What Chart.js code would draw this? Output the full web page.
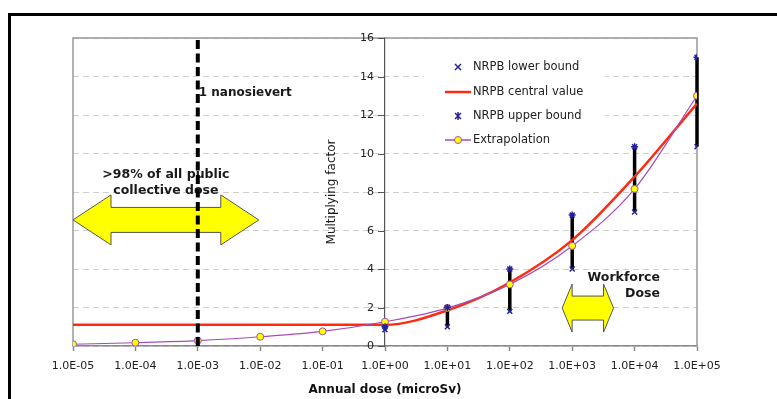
<!DOCTYPE html>
<html>
<head>
<meta charset="utf-8">
<script src="https://cdn.jsdelivr.net/npm/chart.js@4.4.1/dist/chart.umd.min.js"></script>
<style>
  html, body { margin: 0; padding: 0; background: #fff; }
  #wrap { position: relative; width: 777px; height: 399px; overflow: hidden; }
  #frame { position: absolute; left: 8px; top: 13px; right: -10px; bottom: -10px; border-top: 3px solid #000; border-left: 3px solid #000; pointer-events: none; }
  canvas { position: absolute; left: 0; top: 0; }
</style>
</head>
<body>
<div id="wrap"><canvas id="chart" width="777" height="399"></canvas><div id="frame"></div></div>
<script>
/* ================= DATA ================= */
const doses = [1e-5, 1e-4, 1e-3, 1e-2, 1e-1, 1e0, 1e1, 1e2, 1e3, 1e4, 1e5];
const extrapolation = [0.09, 0.17, 0.28, 0.48, 0.76, 1.26, 1.97, 3.2, 5.2, 8.16, 13.0];
const centralValue = [1.1, 1.1, 1.1, 1.1, 1.1, 1.1, 1.85, 3.3, 5.5, 8.8, 12.6];
const lowerBound = [null, null, null, null, null, 0.85, 1.0, 1.8, 4.0, 6.96, 10.35];
const upperBound = [null, null, null, null, null, 1.0, 2.0, 4.0, 6.8, 10.35, 15.0];
const xTicks = [1e-5, 1e-4, 1e-3, 1e-2, 1e-1, 1e0, 1e1, 1e2, 1e3, 1e4, 1e5];
const yTicks = [0, 2, 4, 6, 8, 10, 12, 14, 16];

const FONT = 'DejaVu Sans';
const BLUE = '#22229a';
const PURPLE = '#a64cb8';
const RED = '#ff2a10';

function sci(v) {
    const e = Math.round(Math.log10(v));
    const m = (v / Math.pow(10, e)).toFixed(1);
    return m + 'E' + (e < 0 ? '-' : '+') + String(Math.abs(e)).padStart(2, '0');
}

function pts(arr) {
    return doses.map((d, i) => ({ x: d, y: arr[i] })).filter(p => p.y !== null);
}

function arrow(ctx, xL, xR, yC, headLen, headHalf, shaftHalf) {
    ctx.beginPath();
    ctx.moveTo(xL, yC);
    ctx.lineTo(xL + headLen, yC - headHalf);
    ctx.lineTo(xL + headLen, yC - shaftHalf);
    ctx.lineTo(xR - headLen, yC - shaftHalf);
    ctx.lineTo(xR - headLen, yC - headHalf);
    ctx.lineTo(xR, yC);
    ctx.lineTo(xR - headLen, yC + headHalf);
    ctx.lineTo(xR - headLen, yC + shaftHalf);
    ctx.lineTo(xL + headLen, yC + shaftHalf);
    ctx.lineTo(xL + headLen, yC + headHalf);
    ctx.closePath();
    ctx.fillStyle = '#ffff00';
    ctx.fill();
    ctx.strokeStyle = '#555';
    ctx.lineWidth = 1;
    ctx.stroke();
}

function cross(ctx, x, y, r, plus) {
    ctx.beginPath();
    ctx.moveTo(x - r, y - r); ctx.lineTo(x + r, y + r);
    ctx.moveTo(x - r, y + r); ctx.lineTo(x + r, y - r);
    if (plus) {
        ctx.moveTo(x, y - r * 1.3); ctx.lineTo(x, y + r * 1.3);
    }
    ctx.stroke();
}

/* ================= EXTRAS ================= */
const extras = {
    id: 'extras',
    beforeDatasetsDraw(chart) {
        const { ctx, chartArea: a, scales: { x, y } } = chart;
        ctx.save();
        // plot box
        ctx.strokeStyle = '#999';
        ctx.lineWidth = 1.5;
        ctx.beginPath();
        ctx.moveTo(a.left, a.bottom);
        ctx.lineTo(a.left, a.top);
        ctx.lineTo(a.right, a.top);
        ctx.lineTo(a.right, a.bottom);
        ctx.stroke();
        // y tick marks and labels, left of the centred axis
        const ax = x.getPixelForValue(1);
        ctx.strokeStyle = '#555';
        ctx.lineWidth = 1;
        ctx.fillStyle = '#222';
        ctx.font = '11px ' + FONT;
        ctx.textAlign = 'right';
        ctx.textBaseline = 'middle';
        y.ticks.forEach(t => {
            const py = Math.round(y.getPixelForValue(t.value)) + 0.5;
            ctx.beginPath();
            ctx.moveTo(ax - 7, py);
            ctx.lineTo(ax, py);
            ctx.stroke();
            ctx.fillText(String(t.value), ax - 11, py);
        });
        // error bars
        ctx.strokeStyle = '#000';
        ctx.lineWidth = 3.5;
        doses.forEach((d, i) => {
            if (lowerBound[i] === null || upperBound[i] === null) return;
            const px = x.getPixelForValue(d);
            ctx.beginPath();
            ctx.moveTo(px, y.getPixelForValue(lowerBound[i]));
            ctx.lineTo(px, y.getPixelForValue(upperBound[i]));
            ctx.stroke();
        });
        ctx.restore();
    },
    afterDatasetsDraw(chart) {
        const { ctx, chartArea: a, scales: { x, y } } = chart;
        ctx.save();

        // public dose arrow
        arrow(ctx, x.getPixelForValue(1e-5), x.getPixelForValue(0.0095), y.getPixelForValue(6.55), 38, 25, 12.5);
        // workforce arrow
        arrow(ctx, x.getPixelForValue(690), x.getPixelForValue(4600), y.getPixelForValue(1.97), 10, 24, 12);

        ctx.fillStyle = '#1a1a1a';
        ctx.font = 'bold 12.5px ' + FONT;
        ctx.textBaseline = 'middle';
        ctx.textAlign = 'center';
        const cx = (x.getPixelForValue(1e-5) + x.getPixelForValue(0.0095)) / 2;
        ctx.fillText('>98% of all public', cx, 175);
        ctx.fillText('collective dose', cx, 191);
        ctx.textAlign = 'right';
        ctx.fillText('Workforce', 660, 278);
        ctx.fillText('Dose', 660, 294);

        // 1 nanosievert line
        const nx = x.getPixelForValue(1e-3);
        ctx.strokeStyle = '#000';
        ctx.lineWidth = 4;
        ctx.setLineDash([9, 4.5]);
        ctx.beginPath();
        ctx.moveTo(nx, a.top + 2);
        ctx.lineTo(nx, a.bottom);
        ctx.stroke();
        ctx.setLineDash([]);
        ctx.textAlign = 'left';
        ctx.font = 'bold 12px ' + FONT;
        ctx.fillText('1 nanosievert', nx + 1, 93);

        // y title
        ctx.save();
        ctx.translate(332, (a.top + a.bottom) / 2);
        ctx.rotate(-Math.PI / 2);
        ctx.textAlign = 'center';
        ctx.font = '12px ' + FONT;
        ctx.fillText('Multiplying factor', 0, 0);
        ctx.restore();

        // legend
        ctx.fillStyle = '#fff';
        ctx.fillRect(424, 55, 181, 95);
        const mx = 458, tx = 473;
        const rows = [67, 92, 116, 140];
        ctx.strokeStyle = BLUE;
        ctx.lineWidth = 1.5;
        cross(ctx, mx, rows[0], 3, false);
        cross(ctx, mx, rows[2], 3, true);
        ctx.strokeStyle = RED;
        ctx.lineWidth = 2.5;
        ctx.beginPath(); ctx.moveTo(445, rows[1]); ctx.lineTo(471, rows[1]); ctx.stroke();
        ctx.strokeStyle = PURPLE;
        ctx.lineWidth = 1.5;
        ctx.beginPath(); ctx.moveTo(445, rows[3]); ctx.lineTo(471, rows[3]); ctx.stroke();
        ctx.beginPath(); ctx.arc(mx, rows[3], 3.5, 0, Math.PI * 2);
        ctx.fillStyle = '#ffff00'; ctx.fill();
        ctx.lineWidth = 1; ctx.stroke();
        ctx.fillStyle = '#222';
        ctx.font = '11.5px ' + FONT;
        ctx.textAlign = 'left';
        ['NRPB lower bound', 'NRPB central value', 'NRPB upper bound', 'Extrapolation']
            .forEach((t, i) => ctx.fillText(t, tx, rows[i]));

        ctx.restore();
    }
};

/* ================= CHART ================= */
new Chart(document.getElementById('chart'), {
    type: 'line',
    data: {
        datasets: [{
            label: 'NRPB lower bound',
            data: pts(lowerBound),
            showLine: false,
            pointStyle: 'crossRot',
            pointRadius: 3.5,
            pointBorderWidth: 1.5,
            borderColor: BLUE,
            backgroundColor: BLUE
        }, {
            label: 'NRPB upper bound',
            data: pts(upperBound),
            showLine: false,
            pointStyle: 'star',
            pointRadius: 3.5,
            pointBorderWidth: 1.5,
            borderColor: BLUE,
            backgroundColor: BLUE
        }, {
            label: 'Extrapolation',
            data: pts(extrapolation),
            borderColor: PURPLE,
            borderWidth: 1.2,
            cubicInterpolationMode: 'monotone',
            pointRadius: 3.5,
            pointBorderWidth: 1,
            pointBorderColor: PURPLE,
            pointBackgroundColor: '#ffff00'
        }, {
            label: 'NRPB central value',
            data: pts(centralValue),
            borderColor: RED,
            borderWidth: 2.5,
            cubicInterpolationMode: 'monotone',
            pointRadius: 0
        }]
    },
    options: {
        responsive: false,
        animation: false,
        devicePixelRatio: 1,
        layout: { padding: { left: 73, right: 80, top: 38, bottom: 0 } },
        plugins: { legend: { display: false }, tooltip: { enabled: false } },
        scales: {
            x: {
                type: 'logarithmic',
                min: 1e-5,
                max: 1e5,
                afterBuildTicks: s => { s.ticks = xTicks.map(v => ({ value: v })); },
                afterFit: s => { s.height = 53; },
                ticks: {
                    callback: v => sci(v),
                    autoSkip: false,
                    maxRotation: 0,
                    padding: 9,
                    color: '#222',
                    font: { family: FONT, size: 11 }
                },
                grid: { drawOnChartArea: false, tickLength: 5, tickColor: '#888', tickWidth: 1.5 },
                border: { color: '#888', width: 1.5 },
                title: {
                    display: true,
                    text: 'Annual dose (microSv)',
                    color: '#111',
                    font: { family: FONT, size: 12, weight: 'bold' },
                    padding: { top: 4, bottom: 2 }
                }
            },
            y: {
                min: 0,
                max: 16,
                position: { x: 1 },
                afterBuildTicks: s => { s.ticks = yTicks.map(v => ({ value: v })); },
                ticks: { display: false },
                grid: { color: '#cfcfcf', lineWidth: 1, drawTicks: false },
                border: { color: '#555', width: 1.2, dash: [6, 4] }
            }
        }
    },
    plugins: [extras]
});
</script>
</body>
</html>
